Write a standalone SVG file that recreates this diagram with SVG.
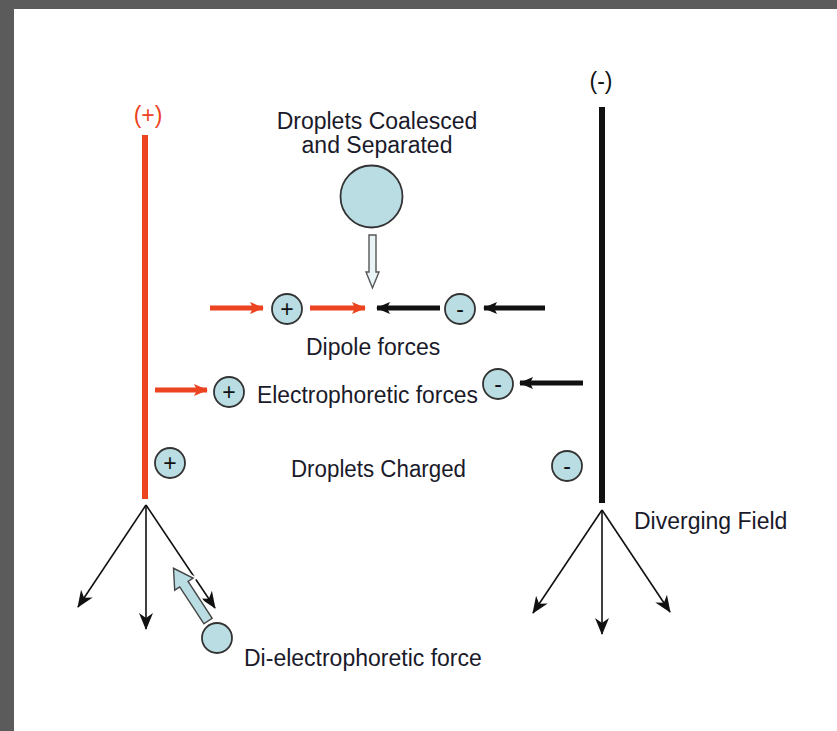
<svg xmlns="http://www.w3.org/2000/svg" width="837" height="731" viewBox="0 0 837 731">
<style>
text{font-family:"Liberation Sans",Arial,sans-serif;font-size:23px;fill:#1a1a2a}
.drop{fill:#b9dde3;stroke:#333;stroke-width:1.8}
.sign{font-size:23px;text-anchor:middle;fill:#111}
.thin{stroke:#111;stroke-width:1.6;fill:none;marker-end:url(#thinhead)}
.red{stroke:#ec4321;stroke-width:5;marker-end:url(#redhead)}
.blk{stroke:#111;stroke-width:5;marker-end:url(#blkhead)}
</style>
<defs>
<marker id="thinhead" markerUnits="userSpaceOnUse" markerWidth="20" markerHeight="16" refX="16" refY="7" orient="auto" viewBox="0 0 20 14">
<path d="M0,0 L17,7 L0,14 L5,7 z" fill="#111"/>
</marker>
<marker id="redhead" markerUnits="userSpaceOnUse" markerWidth="14" markerHeight="12" refX="13" refY="6" orient="auto" viewBox="0 0 14 12">
<path d="M0,0 L14,6 L0,12 L3,6 z" fill="#ec4321"/>
</marker>
<marker id="blkhead" markerUnits="userSpaceOnUse" markerWidth="14" markerHeight="12" refX="13" refY="6" orient="auto" viewBox="0 0 14 12">
<path d="M0,0 L14,6 L0,12 L3,6 z" fill="#111"/>
</marker>
</defs>
<rect x="0" y="0" width="837" height="731" fill="#ffffff"/>
<rect x="0" y="0" width="837" height="9" fill="#5b5b5b"/>
<rect x="0" y="0" width="14" height="731" fill="#5b5b5b"/>

<g id="electrode-positive">
<rect x="142" y="135" width="6" height="364" fill="#ec4321"/>
<text x="148" y="123" text-anchor="middle" style="fill:#ec4321">(+)</text>
</g>
<g id="electrode-negative">
<rect x="599" y="107" width="6" height="396" fill="#111"/>
<text x="601" y="89" text-anchor="middle" style="fill:#111">(-)</text>
</g>

<g id="connectors">
<line class="thin" x1="146" y1="505" x2="78" y2="607"/>
<line class="thin" x1="146" y1="505" x2="146" y2="629"/>
<line class="thin" x1="146" y1="505" x2="215" y2="608"/>
<line class="thin" x1="602" y1="510" x2="533" y2="613"/>
<line class="thin" x1="602" y1="510" x2="602" y2="634"/>
<line class="thin" x1="602" y1="510" x2="670" y2="612"/>
<line class="red" x1="210" y1="308" x2="263" y2="308"/>
<line class="red" x1="310" y1="308" x2="365" y2="308"/>
<line class="blk" x1="440" y1="308" x2="377" y2="308"/>
<line class="blk" x1="545" y1="308" x2="484" y2="308"/>
<line class="red" x1="155" y1="390" x2="207" y2="390"/>
<line class="blk" x1="583" y1="383" x2="520" y2="383"/>
<path d="M369,235 L376,235 L376,272 L379,272 L372.5,288 L366,272 L369,272 z" fill="#e8f4f6" stroke="#555" stroke-width="1.4"/>
<g transform="translate(208,621) rotate(-123.2)">
<path d="M0,-5 L44,-5 L44,-11 L63,0 L44,11 L44,5 L0,5 z" fill="none" stroke="#fff" stroke-width="5"/>
<path d="M0,-5 L44,-5 L44,-11 L63,0 L44,11 L44,5 L0,5 z" fill="#b9dde3" stroke="#444" stroke-width="1.4"/>
</g>
</g>

<g id="coalesced">
<text x="377" y="129" text-anchor="middle">Droplets Coalesced</text>
<text x="377" y="153" text-anchor="middle">and Separated</text>
<circle class="drop" cx="371.5" cy="196.5" r="31"/>
</g>

<g id="dipole">
<circle class="drop" cx="287" cy="309" r="15"/>
<text class="sign" x="287" y="317">+</text>
<circle class="drop" cx="460" cy="309" r="15"/>
<text class="sign" x="460" y="317">-</text>
<text x="306" y="355">Dipole forces</text>
</g>

<g id="electrophoretic">
<circle class="drop" cx="229" cy="392" r="15"/>
<text class="sign" x="229" y="400">+</text>
<circle class="drop" cx="498" cy="384" r="15"/>
<text class="sign" x="498" y="392">-</text>
<text x="257" y="403" textLength="221" lengthAdjust="spacingAndGlyphs">Electrophoretic forces</text>
</g>

<g id="charged">
<circle class="drop" cx="170" cy="463" r="15"/>
<text class="sign" x="170" y="471">+</text>
<circle class="drop" cx="567" cy="466" r="15"/>
<text class="sign" x="567" y="474">-</text>
<text x="291" y="477" textLength="175" lengthAdjust="spacingAndGlyphs">Droplets Charged</text>
</g>

<g id="diverging-label">
<text x="634" y="529">Diverging Field</text>
</g>

<g id="dielectrophoretic">
<circle class="drop" cx="217" cy="638" r="15"/>
<text x="244" y="666">Di-electrophoretic force</text>
</g>
</svg>
